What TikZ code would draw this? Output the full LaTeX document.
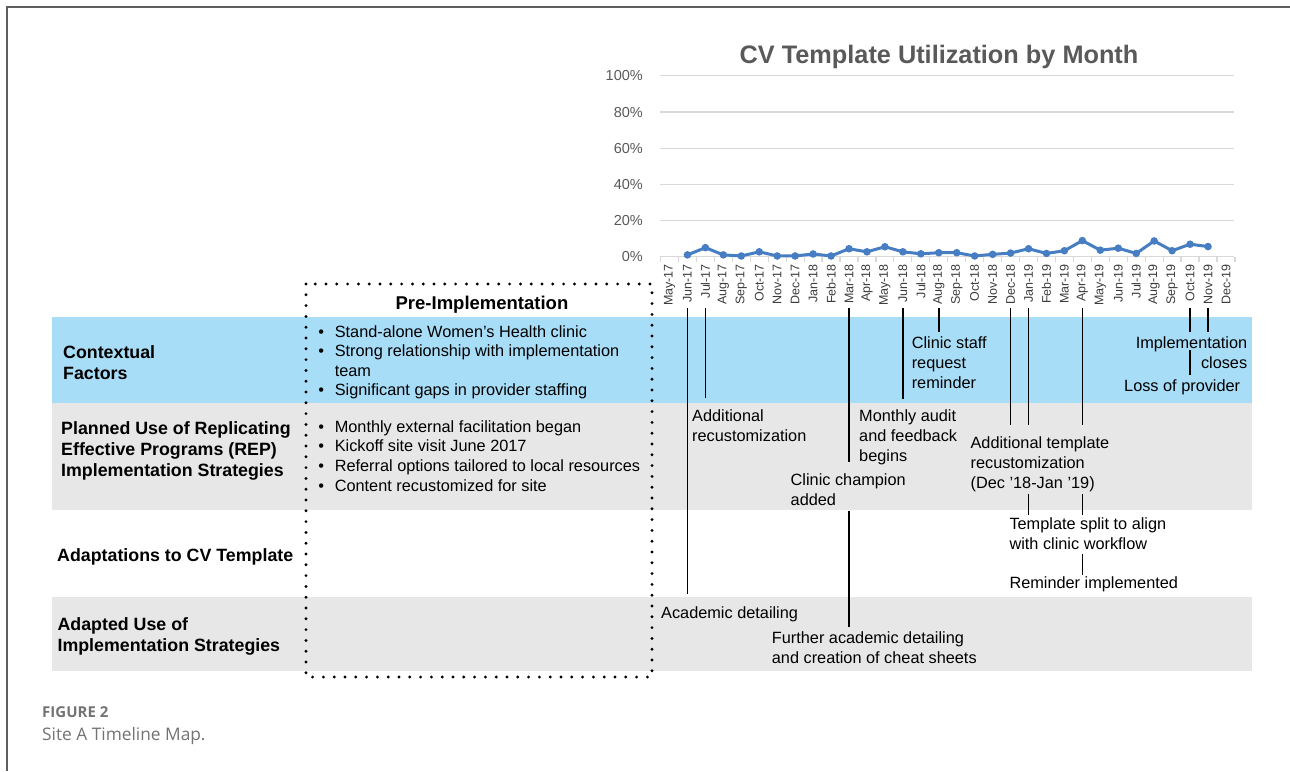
\documentclass[tikz,border=0pt]{standalone}
\usepackage{fontspec}
\setmainfont{Liberation Sans}
\newfontfamily\capfont{Open Sans}

\definecolor{bandblue}{RGB}{168,221,248}
\definecolor{bandgray}{RGB}{231,231,231}
\definecolor{axisgray}{RGB}{89,89,89}
\definecolor{monthgray}{RGB}{60,60,60}
\definecolor{gridgray}{RGB}{217,217,217}
\definecolor{datablue}{RGB}{71,125,194}
\definecolor{framegray}{RGB}{95,95,95}
\definecolor{capgray}{RGB}{115,115,115}

% bullet with fixed indent for the pre-implementation lists
\newcommand{\bitem}{\makebox[16.4pt][l]{\textbullet}}

\begin{document}
\begin{tikzpicture}[x=1pt,y=-1pt,
  link/.style={draw=black,line width=1.5pt},
  ev/.style={font=\fontsize{16.3}{20}\selectfont,align=left,inner sep=0pt,anchor=north west},
  rowlab/.style={font=\bfseries\fontsize{17.8}{21}\selectfont,align=left,inner sep=0pt,anchor=north west},
  bul/.style={font=\fontsize{16.3}{19.6}\selectfont,align=left,inner sep=0pt,anchor=north west},
  mon/.style={font=\fontsize{12.5}{14}\selectfont,text=monthgray,rotate=90,anchor=east,inner sep=0pt},
  ylab/.style={font=\fontsize{14.5}{16}\selectfont,text=axisgray,anchor=base east,inner sep=0pt},
  gridline/.style={draw=gridgray,line width=1.2pt},
  dataline/.style={draw=datablue,line width=3pt,line join=round,line cap=round},
  dotbox/.style={draw=black,line width=3.2pt,line cap=round,dash pattern=on 0pt off 10.8pt},
]
\useasboundingbox (0,0) rectangle (1290,771);

% page frame
\draw[draw=framegray,line width=1.8pt] (7.3,771) -- (7.3,6.7) -- (1290,6.7);

% ---------- chart ----------
\node[font=\bfseries\fontsize{25.3}{28}\selectfont,text=axisgray,anchor=base,inner sep=0pt]
  (title) at (939,63.3) {CV Template Utilization by Month};

\foreach \p/\yy in {0/256.7,20/220.5,40/184.3,60/148.1,80/111.9,100/75.7} {
  \draw[gridline] (660,\yy) -- (1234,\yy);
  \node[ylab] (y\p) at (643,\yy+5.2) {\p\%};
}
% category ticks
\foreach \k in {0,...,32}
  \draw[gridline] ({669.5+17.95*\k-8.975},256.7) -- ({669.5+17.95*\k-8.975},261.5);

% month labels
\foreach \m [count=\i from 0] in {May-17,Jun-17,Jul-17,Aug-17,Sep-17,Oct-17,Nov-17,Dec-17,
  Jan-18,Feb-18,Mar-18,Apr-18,May-18,Jun-18,Jul-18,Aug-18,Sep-18,Oct-18,Nov-18,Dec-18,
  Jan-19,Feb-19,Mar-19,Apr-19,May-19,Jun-19,Jul-19,Aug-19,Sep-19,Oct-19,Nov-19,Dec-19}
  \node[mon] (m\i) at ({669.5+17.95*\i},264) {\m};

% utilization series
\draw[dataline] ({669.5+17.95*1},{256.7-1.81*1})
  \foreach \v [count=\i from 2] in {5,1,0.4,2.7,0.4,0.4,1.5,0.4,4.4,2.7,5.5,2.7,1.6,2.2,2.2,
    0.4,1.3,2,4.4,1.8,3.3,8.9,3.6,4.7,1.8,8.7,3.3,6.9,5.6}
  { -- ({669.5+17.95*\i},{256.7-1.81*\v}) };
\foreach \v [count=\i] in {1,5,1,0.4,2.7,0.4,0.4,1.5,0.4,4.4,2.7,5.5,2.7,1.6,2.2,2.2,
    0.4,1.3,2,4.4,1.8,3.3,8.9,3.6,4.7,1.8,8.7,3.3,6.9,5.6}
  \fill[datablue] ({669.5+17.95*\i},{256.7-1.81*\v}) circle[radius=3.8pt];

% ---------- timeline rows ----------
\fill[bandblue] (52,317) rectangle (1252,403);
\fill[bandgray] (52,403) rectangle (1252,510);
\fill[bandgray] (52,597) rectangle (1252,670.7);

\node[rowlab] (ctxlab) at (63,345) {Contextual\\Factors};
\node[rowlab] (replab) at (61,421.3) {Planned Use of Replicating\\Effective Programs (REP)\\Implementation Strategies};
\node[rowlab] (adlab) at (57,548.3) {Adaptations to CV Template};
\node[rowlab] (uselab) at (57.4,617.3) {Adapted Use of\\Implementation Strategies};

% pre-implementation column
\draw[dotbox] (306,284) rectangle (652,677);
\node[font=\bfseries\fontsize{18.5}{20}\selectfont,anchor=base,inner sep=0pt]
  (pretitle) at (482,309.3) {Pre-Implementation};
\node[bul] (ctxpts) at (318.2,325) {\bitem Stand-alone Women’s Health clinic\\
  \bitem Strong relationship with implementation\\
  \hspace*{16.4pt}team\\
  \bitem Significant gaps in provider staffing};
\node[bul,font=\fontsize{16.3}{19.8}\selectfont] (reppts) at (318.2,420) {\bitem Monthly external facilitation began\\
  \bitem Kickoff site visit June 2017\\
  \bitem Referral options tailored to local resources\\
  \bitem Content recustomized for site};

% events
\node[ev] (acad) at (661,606.3) {Academic detailing};
\node[ev] (recust) at (692,409.8) {Additional\\recustomization};
\node[ev] (champ) at (790.5,473.3) {Clinic champion\\added};
\node[ev] (audit) at (859,409.8) {Monthly audit\\and feedback\\begins};
\node[ev] (staff) at (911.6,336.6) {Clinic staff\\request\\reminder};
\node[ev] (tmpl) at (970.4,436) {Additional template\\recustomization\\(Dec ’18-Jan ’19)};
\node[ev] (split) at (1009.3,517.6) {Template split to align\\with clinic workflow};
\node[ev] (remind) at (1009.3,576.6) {Reminder implemented};
\node[ev] (further) at (771.7,631.6) {Further academic detailing\\and creation of cheat sheets};
\node[ev,align=right,anchor=north east] (close) at (1247.4,336) {Implementation\\closes};
\node[ev] (loss) at (1124,379.3) {Loss of provider};

% connectors from months to events
\coordinate (tl) at (0,308);
\draw[link] (m1 |- tl) -- ([yshift=12.3pt]m1 |- acad.north);
\draw[link] (m2 |- tl) -- ([yshift=11.8pt]m2 |- recust.north);
\draw[link] (m10 |- tl) -- ([yshift=11.3pt]m10 |- champ.north);
\draw[link] ([yshift=-5.5pt]m10 |- champ.south) -- ([yshift=4.6pt]m10 |- further.north);
\draw[link] (m13 |- tl) -- ([yshift=10.8pt]m13 |- audit.north);
\draw[link] (m15 |- tl) -- ([yshift=4.6pt]m15 |- staff.north);
\draw[link] (m19 |- tl) -- ([yshift=11pt]m19 |- tmpl.north);
\draw[link] (m20 |- tl) -- ([yshift=11pt]m20 |- tmpl.north);
\draw[link] (m23 |- tl) -- ([yshift=11pt]m23 |- tmpl.north);
\draw[link] ([yshift=-2pt]m20 |- tmpl.south) -- ([yshift=2.6pt]m20 |- split.north);
\draw[link] ([yshift=-2pt]m23 |- tmpl.south) -- ([yshift=2.6pt]m23 |- split.north);
\draw[link] ([yshift=-3.7pt]m23 |- split.south) -- ([yshift=1.6pt]m23 |- remind.north);
\draw[link] (m29 |- tl) -- ([yshift=4pt]m29 |- close.north);
\draw[link] ([yshift=-14pt]m29 |- close.north) -- ([yshift=4.3pt]m29 |- loss.north);
\draw[link] (m30 |- tl) -- ([yshift=4pt]m30 |- close.north);

% caption
\node[font=\capfont\bfseries\fontsize{15}{17}\selectfont,text=capgray,anchor=base west,inner sep=0pt]
  (fig) at (42,717.3) {FIGURE 2};
\node[font=\capfont\fontsize{17.3}{20}\selectfont,text=capgray,anchor=base west,inner sep=0pt]
  (figcap) at (42,740.7) {Site A Timeline Map.};
\end{tikzpicture}
\end{document}
